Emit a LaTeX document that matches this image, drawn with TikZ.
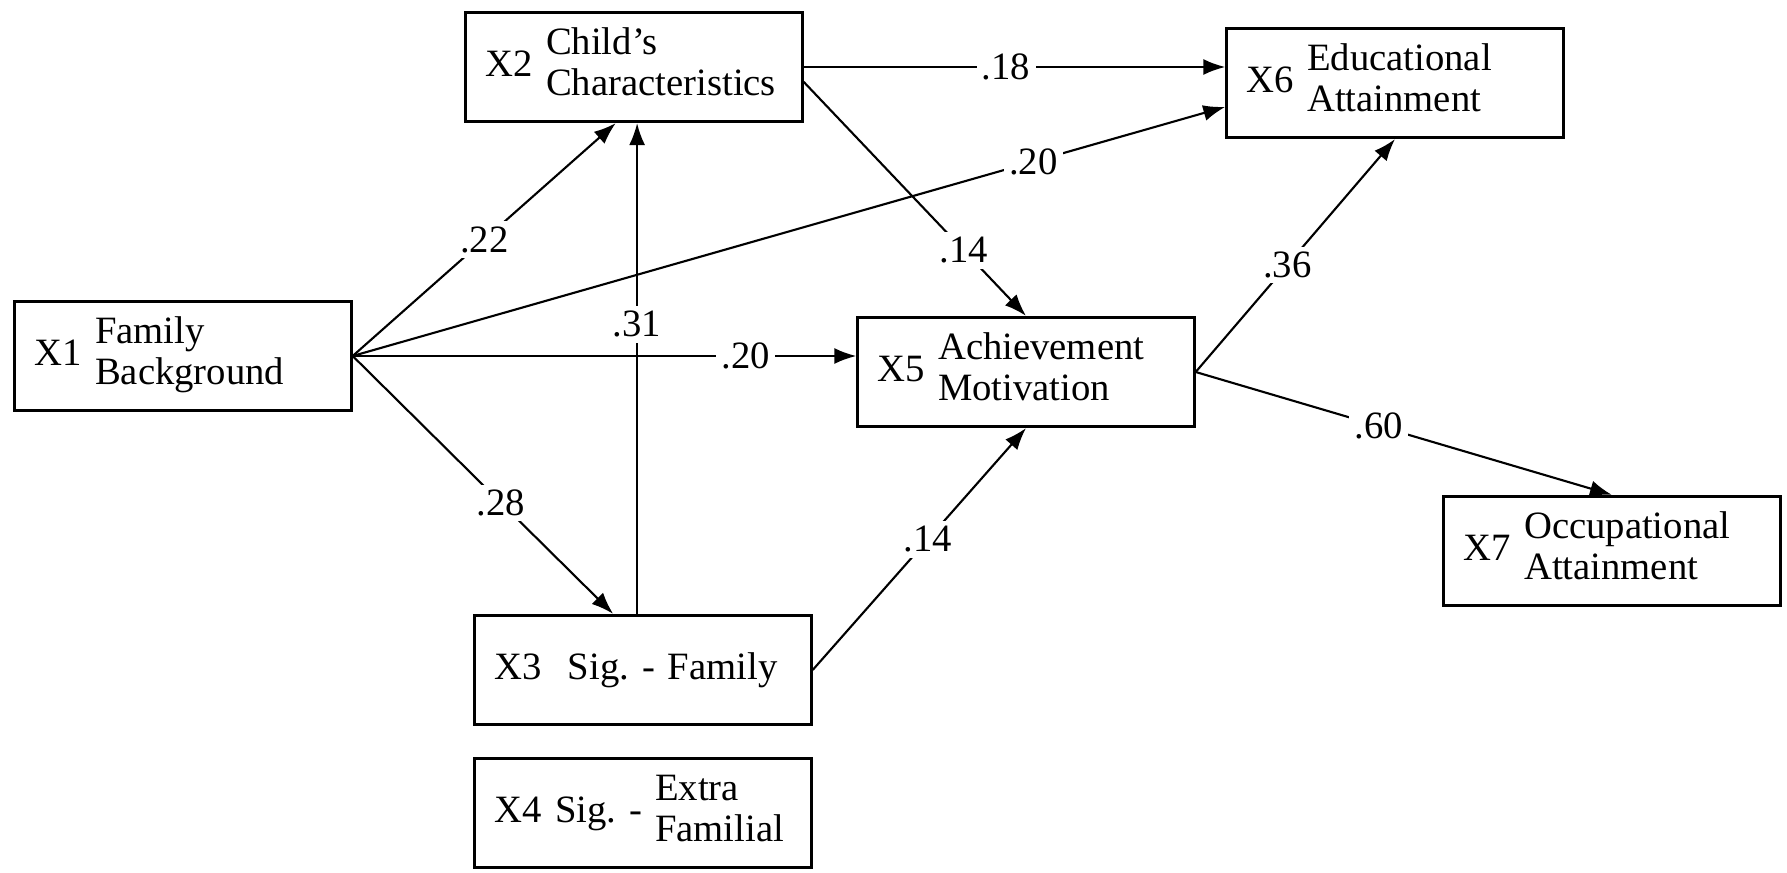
\documentclass[tikz,border=0pt]{standalone}
\usepackage{fontspec}
\setmainfont{Liberation Serif}
\usetikzlibrary{arrows.meta}
\begin{document}
\begin{tikzpicture}[x=0.01cm,y=-0.01cm,
		factor/.style={draw,line width=0.9pt,minimum width=3.36cm,minimum height=1.09cm,text width=2.96cm,inner xsep=0.2cm,align=left,font=\fontsize{11}{11.5}\selectfont},
		link/.style={line width=0.6pt,-{Latex[length=2.2mm,width=1.6mm]}},
		coef/.style={fill=white,inner sep=1.5pt,font=\fontsize{11}{12}\selectfont}]
	\useasboundingbox (0,0) rectangle (1787,873);
	\node[factor] (x1) at (183,356) {X1 \begin{tabular}{@{}l@{}}Family\\Background\end{tabular}};
	\node[factor] (x2) at (634,67) {X2 \begin{tabular}{@{}l@{}}Child's\\Characteristics\end{tabular}};
	\node[factor] (x3) at (643,670) {X3\ \ Sig.\ - Family};
	\node[factor] (x4) at (643,813) {X4 Sig.\ - \begin{tabular}{@{}l@{}}Extra\\Familial\end{tabular}};
	\node[factor] (x5) at (1026,372) {X5 \begin{tabular}{@{}l@{}}Achievement\\Motivation\end{tabular}};
	\node[factor] (x6) at (1395,83) {X6 \begin{tabular}{@{}l@{}}Educational\\Attainment\end{tabular}};
	\node[factor] (x7) at (1612,551) {X7 \begin{tabular}{@{}l@{}}Occupational\\Attainment\end{tabular}};
	\draw[link] (x1.east) -- node[coef,pos=0.5]{.22} (x2.252);
	\draw[link] (x1.east) -- node[coef,pos=0.78]{.20} (x6.188);
	\draw[link] (x1.east) -- node[coef,pos=0.78]{.20} (x1.east -| x5.west);
	\draw[link] (x1.east) -- node[coef,pos=0.57]{.28} (x3.118);
	\draw[link] (x3.96) -- node[coef,pos=0.59]{.31} (x3.96 |- x2.south);
	\draw[link] (x2.east) -- node[coef,pos=0.48]{.18} (x2.east -| x6.west);
	\draw[link] (x2.-5) -- node[coef,pos=0.72]{.14} (x5.north);
	\draw[link] (x3.east) -- node[coef,pos=0.54]{.14} (x5.south);
	\draw[link] (x5.east) -- node[coef,pos=0.46]{.36} (x6.south);
	\draw[link] (x5.east) -- node[coef,pos=0.44]{.60} (x7.north);
\end{tikzpicture}
\end{document}
